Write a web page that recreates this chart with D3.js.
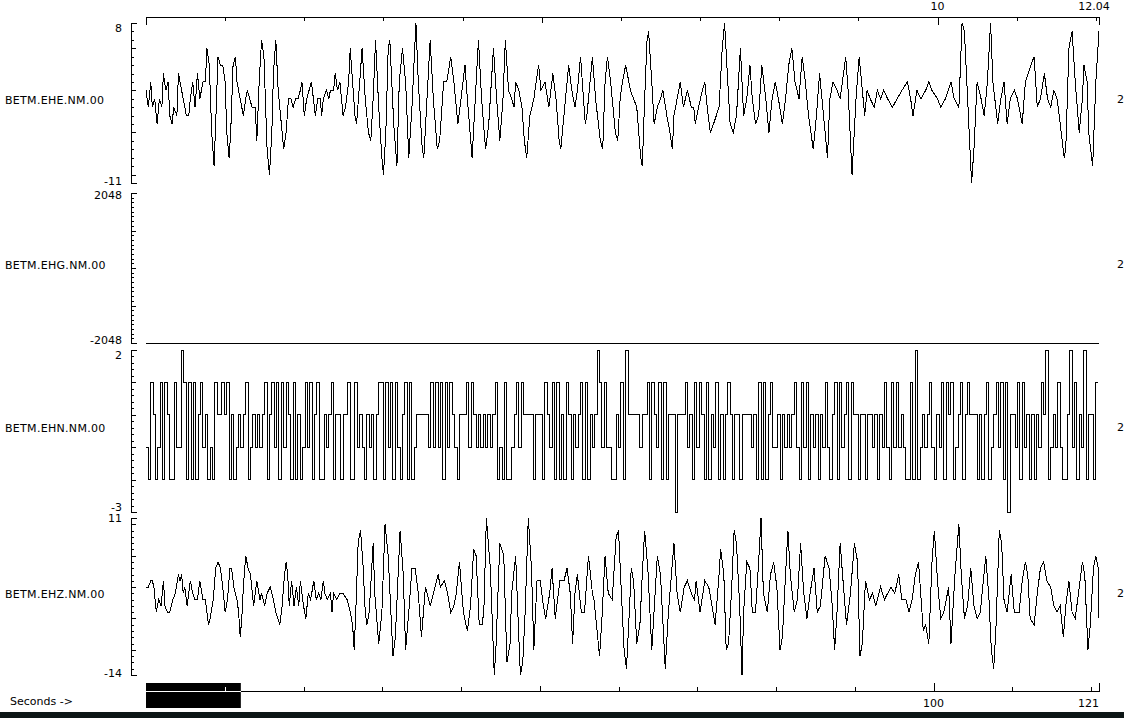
<!DOCTYPE html>
<html>
<head>
<meta charset="utf-8">
<script src="https://cdn.jsdelivr.net/npm/d3@7"></script>
<style>
  body { margin: 0; background: #fff; }
  svg text { font-family: "DejaVu Sans", sans-serif; font-size: 11px; fill: #000; }
  .trace { fill: none; stroke: #000; stroke-width: 1; shape-rendering: crispEdges; }
  .axis path, .axis line { stroke: #000; shape-rendering: crispEdges; }
</style>
</head>
<body>
<svg id="chart" width="1124" height="718"></svg>
<script>
var traceNames = ["BETM.EHE.NM.00", "BETM.EHG.NM.00", "BETM.EHN.NM.00", "BETM.EHZ.NM.00"];
var traceGains = ["2", "2", "2", "2"];
var traceRanges = [[-11, 8], [-2048, 2048], [-3, 2], [-14, 11]];
var traceMinorSteps = [1, 128, 0.2, 1];
var traceMajorSteps = [5, 1024, 1, 5];

var windowSeconds = 12.04,
    recordSeconds = 121;
var topTickValues = [0, 1, 2, 3, 4, 5, 6, 7, 8, 9, 10, 11, 12, 12.04];
var topLabelValues = [10, 12.04];
var bottomTickValues = [0, 10, 20, 30, 40, 50, 60, 70, 80, 90, 100, 110, 120, 121];
var bottomLabelValues = [100, 121];

// [centiseconds, counts]
var eheSamples = [
  [0,0],[3,-2],[6,1],[8,-2],[11,-1],[14,-4],[17,-1],[20,-2],[22,2],[25,0],
  [28,1],[30,-3],[33,-4],[35,-2],[39,-3],[41,2],[45,0],[47,-1],[51,-3],[54,-3],
  [56,-1],[59,1],[62,-2],[65,2],[68,-1],[72,1],[75,1],[77,5],[80,3],[83,-5],
  [86,-9],[88,-4],[91,4],[94,3],[97,3],[100,1],[102,-5],[105,-8],[107,-5],[110,3],
  [113,4],[115,1],[119,-1],[123,-3],[126,-1],[128,0],[131,-1],[134,-2],[138,-2],[140,-6],
  [143,1],[146,6],[149,4],[153,-7],[156,-10],[159,-5],[161,2],[164,6],[167,0],[171,-4],
  [174,-7],[177,-5],[180,-1],[183,-1],[186,-2],[189,-1],[192,-1],[195,0],[197,1],[200,-3],
  [203,-1],[206,0],[209,1],[214,-3],[217,-1],[220,-1],[222,-3],[224,-1],[228,0],[231,-1],
  [233,0],[237,0],[239,2],[242,0],[245,1],[249,-3],[252,-2],[256,1],[258,5],[261,1],
  [264,-3],[266,-4],[270,1],[273,5],[277,-1],[281,-5],[284,-6],[287,-1],
  [290,6],[294,-2],[298,-8],[300,-10],[303,-5],[306,5],[308,6],[313,-4],[317,-9],[320,1],
  [324,5],[328,1],[332,-8],[336,-2],[338,2],[341,8],[344,1],[349,-7],[351,-8],[355,-1],
  [359,6],[363,-1],[368,-7],[371,-6],[376,1],[380,1],[385,4],[389,1],[394,-4],[398,-1],
  [403,3],[406,-1],[412,-8],[416,-1],[420,6],[424,-1],[429,-7],[433,-4],[439,5],[443,-1],
  [447,-6],[451,-1],[454,6],[458,0],[462,-1],[465,-2],[467,1],[471,0],[475,-2],[478,-6],
  [481,-8],[485,-3],[490,-1],[493,1],[496,3],[499,0],[504,1],[509,-2],[514,2],[518,-1],
  [522,-6],[524,-7],[528,-3],[534,3],[538,0],[542,-2],[545,0],[549,4],[555,-4],[557,-3],
  [560,0],[564,4],[568,-1],[574,-6],[577,-7],[580,1],[583,4],[587,1],[593,-5],[596,-6],
  [599,-1],[602,1],[606,3],[612,0],[616,-1],[620,-2],[625,-8],[627,-9],[630,-1],[633,6],
  [635,7],[639,1],[642,-4],[646,-2],[650,-1],[653,0],[658,-3],[662,-5],[665,-7],[667,-3],
  [671,-1],[675,1],[679,-2],[684,0],[689,-2],[692,-2],[694,-4],[698,-2],[703,0],[706,1],
  [709,-2],[713,-5],[717,-4],[724,-2],[728,5],[731,8],[735,1],[738,-4],[742,-5],[746,-3],
  [751,5],
  [755,-3],[759,-1],[763,3],[766,-1],[770,-4],[774,-3],[778,3],[783,-1],[787,-5],[791,-1],
  [795,1],[799,-1],[804,-4],[808,-1],[812,3],[816,5],[820,1],[825,-1],[829,4],[833,1],
  [837,-3],[843,-7],[847,-3],[851,2],[856,-3],[861,-8],[864,-1],[868,1],[873,0],[877,-1],
  [884,4],[887,0],[892,-10],[897,-1],[901,4],[905,0],[908,-3],[911,0],[915,-1],[920,-2],
  [924,0],[928,-1],[932,0],[937,-1],[943,-2],[949,-1],[955,0],[962,1],[966,-1],[969,-3],
  [974,0],[979,-1],[985,0],[989,1],[993,0],[1000,-1],[1004,-2],[1010,-1],[1017,1],[1021,-1],
  [1027,-2],[1031,8],[1034,7],[1038,-1],[1041,-7],[1043,-11],[1046,-7],[1050,1],[1055,-1],[1059,-3],
  [1063,1],[1067,8],[1070,1],[1076,-4],[1080,-1],[1084,1],[1088,-4],[1092,-1],[1097,0],[1101,-1],
  [1107,-4],[1111,1],[1118,3],[1122,4],[1126,-2],[1130,-1],[1135,2],[1139,-1],[1143,-2],[1147,0],
  [1151,-1],[1155,-4],[1160,-8],[1162,-7],[1166,5],[1170,7],[1174,1],[1179,-5],[1183,-1],[1185,3],
  [1189,1],[1191,-5],[1196,-9],[1200,1],[1204,7]
];

var ehgSamples = [[0,-2048],[1204,-2048]];

// one value every 0.03 s
var ehnStep = 0.03;
var ehnValues = [
  -1,-2,1,0,-2,-1,1,-2,1,0, -2,-2,1,-1,-1,2,1,-2,1,-2, 1,-2,0,1,-1,0,-2,-1,-2,1,
  0,0,1,0,1,-2,0,-2,-1,0, -1,0,1,-2,-1,0,-1,0,-1,0, 1,-2,0,1,-1,1,-2,1,-1,1,
  0,-2,1,-2,0,-2,-1,1,-1,1, -2,0,1,-2,-2,0,-1,0,1,-2, 0,0,-2,0,0,1,-2,-2,1,-1,
  0,-1,-2,0,-1,0,-2,0,1,
  1,-2,1,-1,1,-2,1,-1,-2,0, 1,-2,1,-2,-1,0,0,0,0,0, -1,1,-1,1,-1,1,-2,1,-1,1,
  0,-1,-2,0,0,0,1,-1,1,0, -1,0,-1,0,-1,0,-1,0,1,-2, -1,-2,1,-2,-2,-1,0,1,-1,1,
  0,0,0,0,-2,0,0,0,-2,1, 0,-1,1,-2,1,-2,0,-2,1,0, -2,0,-1,0,1,-2,1,-2,0,-1,
  0,2,1,-1,1,-1,-1,-2,-2,0, -1,1,-2,2,0,0,0,0,0,-1, 0,0,1,-2,1,0,-1,1,-2,1,
  -2,0,0,0,-3,0,0,0,1,-1, 0,-2,1,-1,1,0,-2,1,-2,0, -1,1,-2,0,-2,0,1,0,-2,0,
  0,-2,0,0,0,0,
  -1,0,-2,1,-2,1,-2,0,1,-1, -1,0,-2,0,-1,0,-1,0,1,-1, -2,1,-1,1,-2,0,-1,0,-2,0,
  -1,1,-1,-2,0,1,-2,1,-1,0, 1,-2,1,0,0,-2,0,0,-2,0, 0,-1,0,-2,0,-1,1,-1,-2,1,
  -1,1,-1,0,-1,-2,-2,1,-2,2, -2,-1,0,-1,0,1,-1,-2,0,-1, 1,-2,1,0,1,-2,-1,0,1,-2,
  0,1,0,0,0,-2,0,-2,0,1, -2,-1,0,1,-1,1,-2,1,-3,0, 0,-1,1,-2,1,-1,0,-2,0,-2,
  0,-1,1,0,2,-2,-1,0,-1,1, -1,-2,-2,0,2,-1,1,-2,0,-1, 2,-2,0,0,-2,1,1
];

var ehzSamples = [
  [0,0],[3,0],[6,1],[8,1],[10,0],[13,-4],[16,-2],[19,-3],[22,1],[24,-3],
  [27,-4],[30,-4],[34,-2],[37,-1],[41,2],[43,1],[45,2],[47,-1],[49,0],[52,-3],
  [56,1],[59,-1],[62,-2],[65,-2],[68,1],[72,-2],[75,-2],[77,-4],[79,-6],[81,-5],
  [85,-2],[88,3],[91,4],[94,3],[97,0],[100,-4],[103,-2],[106,3],[108,3],[111,0],
  [115,-2],[117,-4],[119,-8],[121,-5],[123,0],[126,5],[129,3],[132,2],[136,-3],[138,-1],
  [140,1],[144,-2],[146,-1],[150,-3],[153,-1],[157,0],[161,-2],[164,-4],[169,-6],[172,-3],
  [175,2],[177,4],[179,2],[181,-3],[184,1],[187,-3],[190,0],[193,-3],[195,1],[199,-3],
  [202,-5],[205,-1],[208,-2],[212,1],[215,-2],[218,-1],[221,-2],[224,1],[226,-1],[229,-2],
  [233,-1],[235,-4],[237,-1],[241,-2],[245,-1],[249,-1],[254,-2],[258,-4],[261,-6],[263,-10],
  [265,-4],[268,7],[271,9],[274,4],[277,-4],[279,-6],[282,-4],
  [287,7],[289,-1],[294,-9],[298,-4],[302,10],[306,5],[312,-11],[315,-8],[321,9],[325,2],
  [328,-10],[332,-4],[336,3],[340,3],[344,-1],[348,-8],[353,0],[359,-3],[365,0],[369,2],
  [372,0],[377,1],[381,-1],[385,-4],[389,-3],[392,-1],[396,4],[401,-4],[406,-7],[410,-3],
  [414,6],[417,5],[421,-6],[425,-6],[427,-3],[430,11],[435,3],[440,-14],[442,-10],[447,7],
  [452,5],[456,-12],[460,-9],[462,-1],[467,5],[471,-8],[473,-14],[476,-12],[479,-4],[483,11],
  [487,3],[490,-10],[494,1],[498,1],[502,-3],[505,-5],[510,-1],[513,3],[517,-5],[523,1],
  [528,1],[532,3],[536,-1],[539,-9],[542,-1],[545,2],[550,-4],[554,-4],[559,5],[564,-1],
  [566,-2],[573,-11],[576,-5],[580,5],[584,-1],[589,-2],[594,8],[597,9],[601,-2],[604,-10],
  [607,-13],[611,-3],[613,3],[616,1],[620,-9],[624,-6],[627,2],[630,9],[634,3],[639,-10],
  [646,5],[650,2],[656,-13],[660,-4],[667,7],[671,-1],[675,-4],[680,0],[684,1],[689,-1],
  [693,-2],[695,1],[700,-4],[706,1],[711,0],[715,-3],[719,-6],[724,2],[726,6],[730,2],
  [733,-10],[736,-9],[740,0],[743,9],[746,7],[750,-3],[753,-14],
  [755,-4],[759,4],[763,3],[766,-4],[770,-4],[774,4],[777,11],[780,-1],[785,-4],[789,2],
  [793,4],[797,0],[801,-10],[804,-8],[808,2],[811,9],[814,2],[819,-4],[823,-2],[827,7],
  [831,-1],[835,-5],[839,-1],[844,3],[848,-4],[852,-3],[858,5],[863,3],[867,-3],[870,-10],
  [873,-4],[877,7],[880,2],[885,-6],[890,-1],[895,7],[899,4],[902,-11],[905,-9],[909,1],
  [914,-2],[918,-1],[922,-3],[928,0],[933,-2],[937,-1],[941,0],[946,-1],[951,2],[955,-2],
  [960,-2],[964,-4],[968,-2],[972,2],[976,4],[982,-7],[985,-6],[989,-9],[993,4],[996,9],
  [1000,1],[1004,-5],[1008,-4],[1014,0],[1017,-9],[1022,2],[1027,10],[1030,2],[1034,-5],[1038,-3],
  [1042,3],[1046,-3],[1050,-5],[1054,-4],[1061,5],[1065,-2],[1068,-10],[1071,-13],[1074,-6],[1078,9],
  [1081,7],[1084,-2],[1088,-4],[1093,2],[1097,-4],[1103,-4],[1107,1],[1111,4],[1114,2],[1117,-5],
  [1122,-6],[1126,-1],[1130,3],[1134,4],[1138,1],[1143,0],[1147,-3],[1151,-4],[1155,-3],[1159,-8],
  [1162,-3],[1166,1],[1170,-4],[1174,-5],[1179,0],[1183,4],[1186,2],[1190,-10],[1193,-6],[1197,3],
  [1200,5],[1203,3],[1204,-5]
];

function fromCentis(list) {
  return list.map(function(d) { return {t: d[0] / 100, v: d[1]}; });
}

var traces = [
  fromCentis(eheSamples),
  fromCentis(ehgSamples),
  ehnValues.map(function(v, i) { return {t: i * ehnStep, v: v}; }),
  fromCentis(ehzSamples)
];
// EHN toggles between integer counts, the others read as waveforms
var traceCurves = [d3.curveLinear, d3.curveLinear, d3.curveStepAfter, d3.curveLinear];

// panel boxes [top, bottom] and label nudges
var panelBox = [[23, 183], [193, 343], [350, 512], [518, 675]];
var maxLabelDy = [9, 6, 9, 4],
    minLabelDy = [2, 1, -1, 2];

var svg = d3.select("#chart");
svg.append("rect").attr("width", 1124).attr("height", 718).attr("fill", "#fff");

var x = d3.scaleLinear().domain([0, windowSeconds]).range([146, 1099]),
    xRecord = d3.scaleLinear().domain([0, recordSeconds]).range([146, 1099]);

function isMultiple(v, step) {
  return Math.abs(v / step - Math.round(v / step)) < 1e-6;
}

traces.forEach(function(data, i) {
  var top = panelBox[i][0], bottom = panelBox[i][1],
      range = traceRanges[i],
      y = d3.scaleLinear().domain(range).range([bottom, top]);

  var nTicks = Math.round((range[1] - range[0]) / traceMinorSteps[i]),
      tickVals = d3.range(0, nTicks + 1).map(function(k) { return range[0] + k * traceMinorSteps[i]; });

  var bracket = svg.append("g")
      .attr("class", "axis")
      .attr("transform", "translate(131,0)")
      .call(d3.axisRight(y).tickValues(tickVals).tickSize(3).tickSizeOuter(6).tickFormat(""));
  bracket.selectAll(".tick line")
      .attr("x2", function(d) { return isMultiple(d, traceMajorSteps[i]) ? 5 : 3; });
  bracket.selectAll(".tick text").remove();

  svg.append("text")
      .attr("x", 122).attr("y", top + maxLabelDy[i])
      .attr("text-anchor", "end")
      .text(range[1]);
  svg.append("text")
      .attr("x", 122).attr("y", bottom + minLabelDy[i])
      .attr("text-anchor", "end")
      .text(range[0]);

  var line = d3.line()
      .curve(traceCurves[i])
      .x(function(d) { return x(d.t); })
      .y(function(d) { return y(d.v); });

  svg.append("path")
      .datum(data)
      .attr("class", "trace")
      .attr("d", line);

  var mid = (top + bottom) / 2;
  svg.append("text")
      .attr("x", 5).attr("y", mid + 1)
      .style("letter-spacing", "0.3px")
      .text(traceNames[i]);
  svg.append("text")
      .attr("x", 1117).attr("y", mid)
      .text(traceGains[i]);
});

// top time axis (seconds in window)
var topAxis = svg.append("g")
    .attr("class", "axis")
    .attr("transform", "translate(0,17)")
    .call(d3.axisBottom(x).tickValues(topTickValues).tickSize(4).tickSizeOuter(0).tickFormat(""));
topAxis.selectAll(".tick line")
    .attr("y2", function(d) { return (d === 0 || d === 10 || d === windowSeconds) ? 8 : d === 5 ? 6 : 4; });
topAxis.selectAll(".tick text").remove();

svg.selectAll(".top-label")
    .data(topLabelValues)
  .enter().append("text")
    .attr("class", "top-label")
    .attr("x", function(d) { return d === windowSeconds ? x(d) - 5 : x(d); })
    .attr("y", 10)
    .attr("text-anchor", "middle")
    .text(function(d) { return d; });

// bottom record axis
var bottomAxis = svg.append("g")
    .attr("class", "axis")
    .attr("transform", "translate(0,691)")
    .call(d3.axisTop(xRecord).tickValues(bottomTickValues).tickSize(4).tickSizeOuter(0).tickFormat(""));
bottomAxis.selectAll(".tick line")
    .attr("y2", function(d) { return (d === 100 || d === recordSeconds) ? -8 : d === 50 ? -5 : -4; });
bottomAxis.selectAll(".tick text").remove();

// black bar = the part of the record shown above
svg.append("rect")
    .attr("x", xRecord(0))
    .attr("y", 683)
    .attr("width", xRecord(windowSeconds) - xRecord(0))
    .attr("height", 25)
    .attr("fill", "#000");
svg.append("line")
    .attr("x1", xRecord(0)).attr("x2", xRecord(windowSeconds))
    .attr("y1", 691.5).attr("y2", 691.5)
    .attr("stroke", "#fff").style("shape-rendering", "crispEdges");
svg.append("line")
    .attr("x1", Math.round(xRecord(10)) + 0.5).attr("x2", Math.round(xRecord(10)) + 0.5)
    .attr("y1", 687).attr("y2", 691)
    .attr("stroke", "#fff").style("shape-rendering", "crispEdges");

svg.selectAll(".bottom-label")
    .data(bottomLabelValues)
  .enter().append("text")
    .attr("class", "bottom-label")
    .attr("x", function(d) { return xRecord(d); })
    .attr("y", 707)
    .attr("text-anchor", function(d) { return d === recordSeconds ? "end" : "middle"; })
    .text(function(d) { return d; });

svg.append("text")
    .attr("x", 10).attr("y", 705)
    .text("Seconds ->");

// desktop strip under the window
svg.append("rect")
    .attr("x", 0).attr("y", 712)
    .attr("width", 1124).attr("height", 6)
    .attr("fill", "#0d1616");
</script>
</body>
</html>
